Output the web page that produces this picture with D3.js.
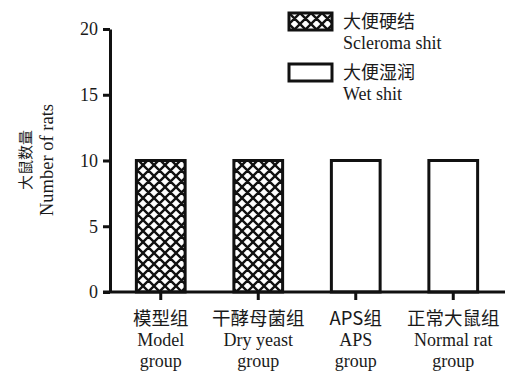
<!DOCTYPE html>
<html>
<head>
<meta charset="utf-8">
<script src="https://cdn.jsdelivr.net/npm/d3@7"></script>
<style>
  body { margin: 0; background: #fff; }
  svg { display: block; }
  text { font-family: "Liberation Serif", "Noto Sans CJK SC", serif; fill: #1a1a1a; }
</style>
</head>
<body>
<svg id="chart"></svg>
<script>
// Data
const groupsCn = ['模型组', '干酵母菌组', 'APS组', '正常大鼠组'];
const groupsEn = [['Model', 'group'], ['Dry yeast', 'group'], ['APS', 'group'], ['Normal rat', 'group']];
const sclerotic = [10, 10, 0, 0];   // 大便硬结 Scleroma shit
const wet = [0, 0, 10, 10];         // 大便湿润 Wet shit
const seriesNames = [['大便硬结', 'Scleroma shit'], ['大便湿润', 'Wet shit']];
const yTicks = [0, 5, 10, 15, 20];

const width = 524, height = 371;
const svg = d3.select('#chart').attr('width', width).attr('height', height);

// hatch pattern for the first series
const defs = svg.append('defs');
const pat = defs.append('pattern')
    .attr('id', 'hatch')
    .attr('patternUnits', 'userSpaceOnUse')
    .attr('width', 11).attr('height', 11);
pat.append('rect').attr('width', 11).attr('height', 11).attr('fill', '#fff');
pat.append('path')
    .attr('d', 'M0,0L11,11M11,0L0,11M-1,10L1,12M10,-1L12,1M-1,1L1,-1M10,12L12,10')
    .attr('stroke', '#111').attr('stroke-width', 2.4);

const x = d3.scaleBand()
    .domain(groupsCn)
    .range([112, 502])
    .paddingInner(0.5)
    .paddingOuter(0.25);

const y = d3.scaleLinear().domain([0, 20]).range([292, 29]);

const series = [
    { values: sclerotic, fill: 'url(#hatch)' },
    { values: wet, fill: '#fff' }
];

// bars
series.forEach(s => {
    svg.append('g')
        .selectAll('rect')
        .data(groupsCn.map((g, i) => ({ g, v: s.values[i] })).filter(d => d.v > 0))
        .enter().append('rect')
        .attr('x', d => x(d.g))
        .attr('width', x.bandwidth())
        .attr('y', d => y(d.v))
        .attr('height', d => y(0) - y(d.v))
        .attr('fill', s.fill)
        .attr('stroke', '#111')
        .attr('stroke-width', 3);
});

// y axis
const yAxis = svg.append('g')
    .attr('transform', 'translate(110,0)')
    .call(d3.axisLeft(y).tickValues(yTicks).tickSize(7).tickPadding(5).tickSizeOuter(0));
yAxis.select('.domain').attr('stroke', '#111').attr('stroke-width', 3);
yAxis.selectAll('.tick line').attr('stroke', '#111').attr('stroke-width', 3);
yAxis.selectAll('.tick text')
    .style('font-family', '"Liberation Serif", serif')
    .style('font-size', '18px').attr('fill', '#1a1a1a');

// x axis
const xAxis = svg.append('g')
    .attr('transform', `translate(0,${y(0)})`)
    .call(d3.axisBottom(x).tickSize(8).tickSizeOuter(0).tickFormat(''));
xAxis.select('.domain').attr('d', 'M103,0H505').attr('stroke', '#111').attr('stroke-width', 3);
xAxis.selectAll('.tick line').attr('stroke', '#111').attr('stroke-width', 3);

// category labels
const lab = svg.append('g').selectAll('g')
    .data(groupsCn)
    .enter().append('g')
    .attr('transform', d => `translate(${x(d) + x.bandwidth() / 2},0)`);
lab.append('text')
    .attr('y', 325)
    .attr('text-anchor', 'middle')
    .style('font-family', '"Noto Sans CJK SC", sans-serif')
    .style('font-size', '18.5px')
    .text(d => d);
lab.each(function (d, i) {
    groupsEn[i].forEach((line, j) => {
        d3.select(this).append('text')
            .attr('y', 346 + j * 21)
            .attr('text-anchor', 'middle')
            .style('font-size', '18px')
            .text(line);
    });
});

// y axis title
const yt = svg.append('g').attr('transform', 'translate(0,160) rotate(-90)');
yt.append('text')
    .attr('y', 31)
    .attr('text-anchor', 'middle')
    .style('font-family', '"Noto Sans CJK SC", sans-serif')
    .style('font-size', '15px')
    .text('大鼠数量');
yt.append('text')
    .attr('y', 53)
    .attr('text-anchor', 'middle')
    .style('font-size', '18.5px')
    .text('Number of rats');

// legend
const legend = svg.append('g').selectAll('g')
    .data(series)
    .enter().append('g')
    .attr('transform', (d, i) => `translate(289,${13 + i * 51})`);
legend.append('rect')
    .attr('width', 43).attr('height', 17)
    .attr('fill', d => d.fill)
    .attr('stroke', '#111').attr('stroke-width', 3);
legend.append('text')
    .attr('x', 54).attr('y', 15)
    .style('font-family', '"Noto Sans CJK SC", sans-serif')
    .style('font-size', '18px')
    .text((d, i) => seriesNames[i][0]);
legend.append('text')
    .attr('x', 54).attr('y', 36)
    .style('font-size', '18px')
    .text((d, i) => seriesNames[i][1]);
</script>
</body>
</html>
